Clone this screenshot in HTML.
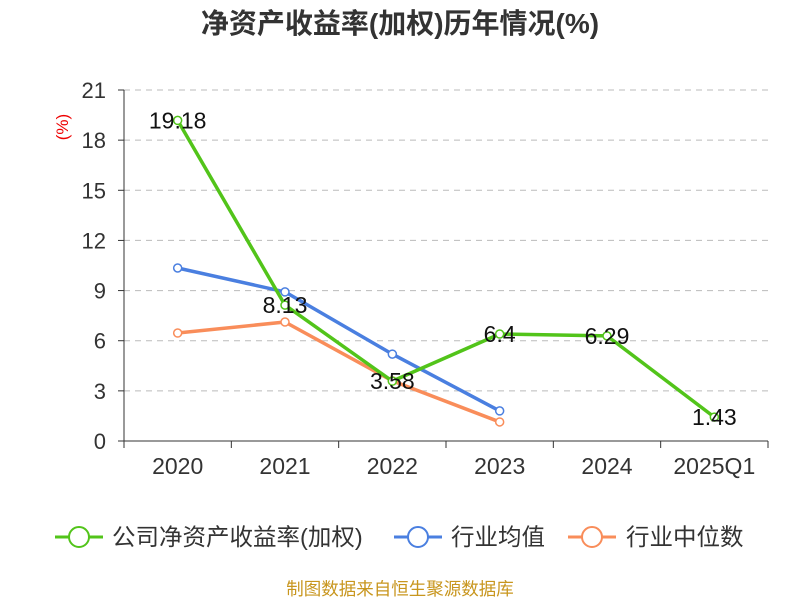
<!DOCTYPE html>
<html><head><meta charset="utf-8"><style>
body{margin:0;background:#fff;}
svg text{font-family:"Liberation Sans","Noto Sans CJK SC",sans-serif;}
</style></head><body>
<svg id="c" width="800" height="600" xmlns="http://www.w3.org/2000/svg">
<text x="400" y="33" text-anchor="middle" font-size="28" font-weight="bold" fill="#333">净资产收益率(加权)历年情况(%)</text>
<text x="68" y="127" text-anchor="middle" font-size="17" fill="#e00" transform="rotate(-90 68 127)">(%)</text>
<g id="grid"></g><g id="axes"></g><g id="series"></g>
<g>
<g><line x1="55" y1="537" x2="103" y2="537" stroke="#52c41a" stroke-width="3"/><circle cx="79" cy="537" r="10" fill="#fff" stroke="#52c41a" stroke-width="2"/><text x="112" y="545" font-size="23.5" fill="#333">公司净资产收益率(加权)</text></g>
<g><line x1="394" y1="537" x2="442" y2="537" stroke="#4a7fe0" stroke-width="3"/><circle cx="418" cy="537" r="10" fill="#fff" stroke="#4a7fe0" stroke-width="2"/><text x="451" y="545" font-size="23.5" fill="#333">行业均值</text></g>
<g><line x1="568" y1="537" x2="616" y2="537" stroke="#f98d5a" stroke-width="3"/><circle cx="592" cy="537" r="10" fill="#fff" stroke="#f98d5a" stroke-width="2"/><text x="626" y="545" font-size="23.5" fill="#333">行业中位数</text></g>
</g>
<text x="400" y="595" text-anchor="middle" font-size="17.5" fill="#c8961e">制图数据来自恒生聚源数据库</text>
</svg>
<script>
const categories=["2020","2021","2022","2023","2024","2025Q1"];
const companyValues=[19.18,8.13,3.58,6.4,6.29,1.43];
const industryAvg=[10.35,8.92,5.2,1.8,null,null];
const industryMedian=[6.46,7.12,3.6,1.14,null,null];
const yTicks=[0,3,6,9,12,15,18,21];
const NS="http://www.w3.org/2000/svg";
const L=124,R=768,T=90,B=441,yMax=21;
const bw=(R-L)/categories.length;
const xS=i=>L+bw*(i+0.5);
const yS=v=>B-(v/yMax)*(B-T);
function mk(tag,attrs,parent,txt){const e=document.createElementNS(NS,tag);for(const k in attrs)e.setAttribute(k,attrs[k]);if(txt!==undefined)e.textContent=txt;parent.appendChild(e);return e;}
const grid=document.getElementById('grid'),axes=document.getElementById('axes'),ser=document.getElementById('series');
yTicks.forEach(t=>{
  const y=yS(t);
  if(t>0){const g=mk('line',{x1:L,x2:R,y1:y,y2:y,stroke:'#bbb','stroke-dasharray':'6,5'},grid);
  
  }
  const tk=mk('line',{x1:L-6,x2:L,y1:y,y2:y,stroke:'#333'},axes);
  
  
  const lb=mk('text',{x:L-18,y:y+8,'text-anchor':'end','font-size':22,fill:'#333'},axes,t);
  
  
});
const ya=mk('line',{x1:L,x2:L,y1:T,y2:B,stroke:'#333'},axes);


const xa=mk('line',{x1:L,x2:R,y1:B,y2:B,stroke:'#333'},axes);


for(let i=0;i<=categories.length;i++){const x=L+bw*i;const tk=mk('line',{x1:x,x2:x,y1:B,y2:B+7,stroke:'#333'},axes);

}
categories.forEach((c,i)=>{const t=mk('text',{x:xS(i),y:B+33,'text-anchor':'middle','font-size':23,fill:'#333'},axes,c);

});
function series(vals,color,name,labels){
  const pts=[];vals.forEach((v,i)=>{if(v!==null)pts.push([xS(i),yS(v),v]);});
  const p=mk('polyline',{points:pts.map(q=>q[0]+','+q[1]).join(' '),fill:'none',stroke:color,'stroke-width':3.5,'stroke-linejoin':'round'},ser);
  
  
  pts.forEach(q=>{const c=mk('circle',{cx:q[0],cy:q[1],r:4,fill:'#fff',stroke:color,'stroke-width':1.5},ser);
  
  });
  if(labels)pts.forEach(q=>{const t=mk('text',{x:q[0],y:q[1]+8,'text-anchor':'middle','font-size':23,fill:'#111'},ser,q[2]);
  
  });
}
series(industryMedian,'#f98d5a','industry-median',false);
series(industryAvg,'#4a7fe0','industry-avg',false);
series(companyValues,'#52c41a','company-roe',true);
</script>
</body></html>
